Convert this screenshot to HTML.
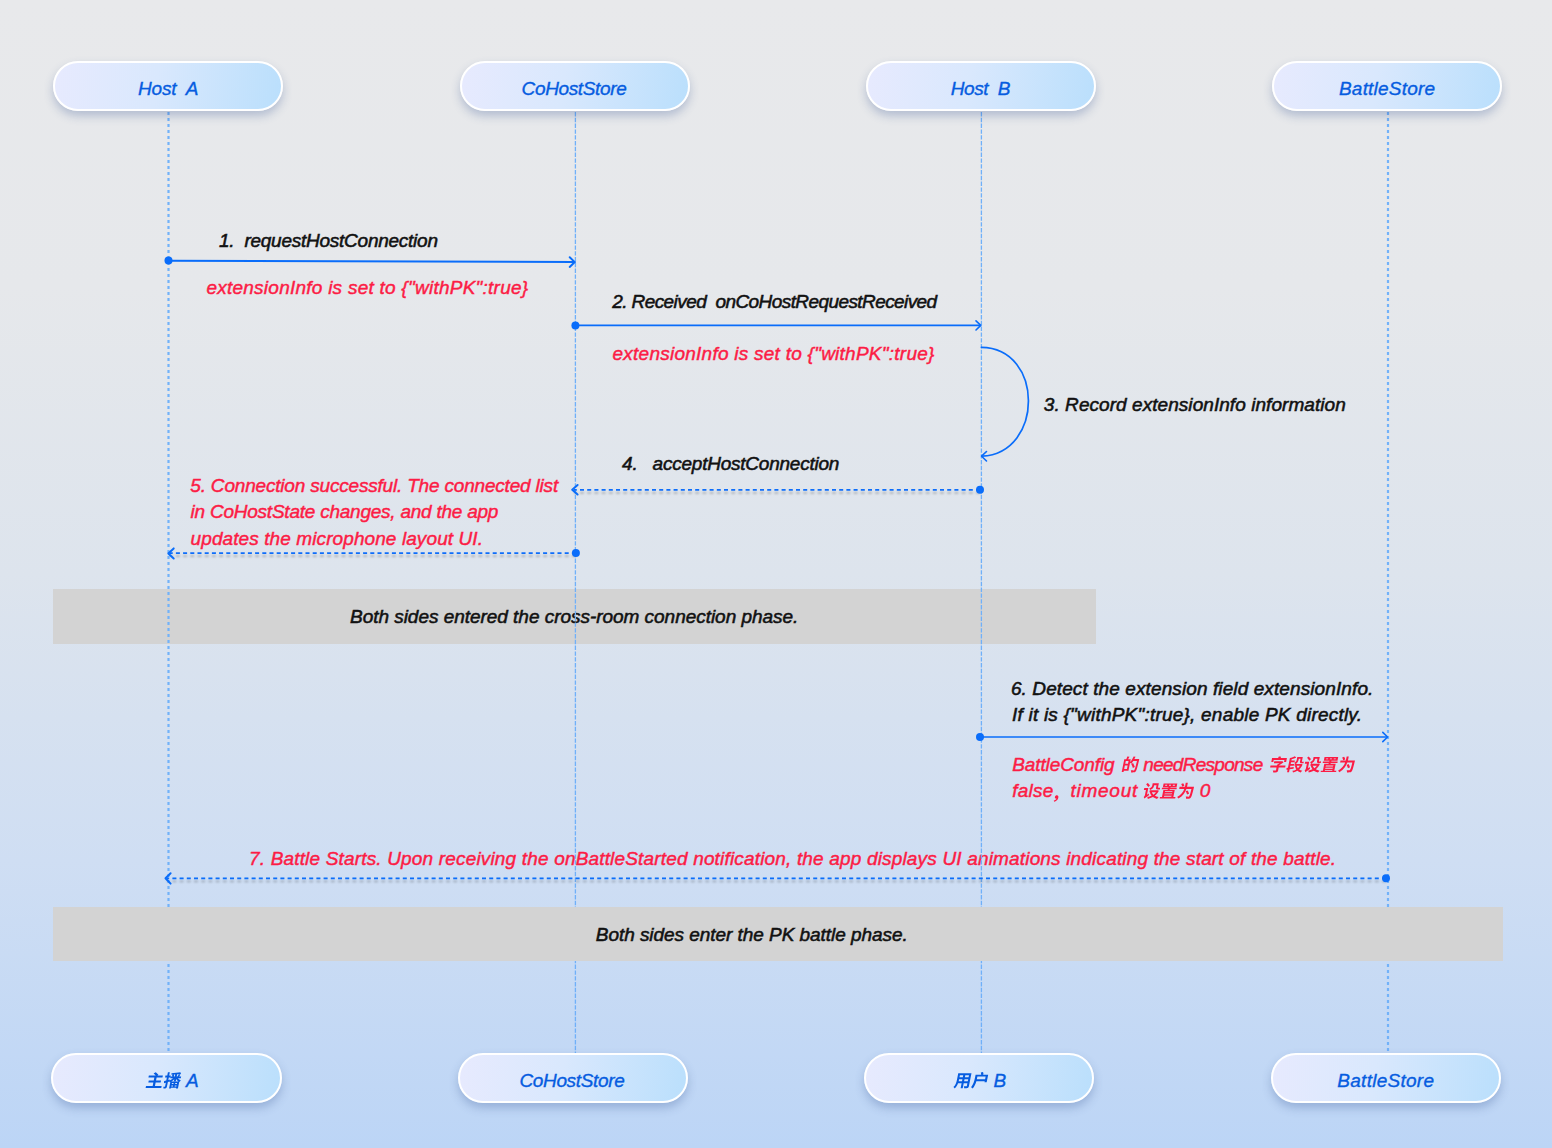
<!DOCTYPE html>
<html><head><meta charset="utf-8">
<style>
html,body{margin:0;padding:0;}
body{width:1552px;height:1148px;position:relative;overflow:hidden;
 background:linear-gradient(180deg,#e8e9eb 0%,#e6e8eb 25%,#dde4ed 50%,#cfdef3 75%,#bcd5f6 100%);
 font-family:"Liberation Sans",sans-serif;font-style:italic;}
.box{position:absolute;width:230.3px;height:50.4px;box-sizing:border-box;border:2px solid #fff;border-radius:25px;
 background:linear-gradient(100deg,#e7eafe 0%,#d9e8fd 45%,#badffc 100%);
 box-shadow:0 5px 10px rgba(60,90,150,0.30);}
.band{position:absolute;background:#d3d3d3;}
.t{position:absolute;white-space:pre;line-height:30px;font-family:"Liberation Sans",sans-serif;font-style:italic;}
svg{position:absolute;left:0;top:0;}
.g{pointer-events:none;}
</style></head><body>
<div class="band" style="left:53px;top:589px;width:1043px;height:55px"></div>
<div class='t' style='left:219.0px;top:226px;color:#111111;font-size:19px;letter-spacing:-0.250px;-webkit-text-stroke:0.55px;'>1.  requestHostConnection</div>
<div class='t' style='left:206.4px;top:273px;color:#fc1c45;font-size:19px;letter-spacing:0.247px;-webkit-text-stroke:0.45px;'>extensionInfo is set to {"withPK":true}</div>
<div class='t' style='left:612.2px;top:287px;color:#111111;font-size:19px;letter-spacing:-0.583px;-webkit-text-stroke:0.55px;'>2. Received  onCoHostRequestReceived</div>
<div class='t' style='left:612.5px;top:339px;color:#fc1c45;font-size:19px;letter-spacing:0.250px;-webkit-text-stroke:0.45px;'>extensionInfo is set to {"withPK":true}</div>
<div class='t' style='left:1043.8px;top:390px;color:#111111;font-size:19px;letter-spacing:0.059px;-webkit-text-stroke:0.55px;'>3. Record extensionInfo information</div>
<div class='t' style='left:622.1px;top:449px;color:#111111;font-size:19px;letter-spacing:-0.233px;-webkit-text-stroke:0.55px;'>4.   acceptHostConnection</div>
<div class='t' style='left:190.3px;top:471px;color:#fc1c45;font-size:19px;letter-spacing:-0.188px;-webkit-text-stroke:0.45px;'>5. Connection successful. The connected list</div>
<div class='t' style='left:190.6px;top:497px;color:#fc1c45;font-size:19px;letter-spacing:-0.235px;-webkit-text-stroke:0.45px;'>in CoHostState changes, and the app</div>
<div class='t' style='left:190.6px;top:524px;color:#fc1c45;font-size:19px;letter-spacing:0.094px;-webkit-text-stroke:0.45px;'>updates the microphone layout UI.</div>
<div class='t' style='left:350.0px;top:602px;color:#111111;font-size:19px;letter-spacing:-0.032px;-webkit-text-stroke:0.55px;'>Both sides entered the cross-room connection phase.</div>
<div class='t' style='left:1010.9px;top:674px;color:#111111;font-size:19px;letter-spacing:0.102px;-webkit-text-stroke:0.55px;'>6. Detect the extension field extensionInfo.</div>
<div class='t' style='left:1012.0px;top:700px;color:#111111;font-size:19px;letter-spacing:0.214px;-webkit-text-stroke:0.55px;'>If it is {"withPK":true}, enable PK directly.</div>
<div class='t' style='left:1012.2px;top:750px;color:#fc1c45;font-size:19px;letter-spacing:-0.100px;-webkit-text-stroke:0.45px;'>BattleConfig</div>
<div class='t' style='left:1143.3px;top:750px;color:#fc1c45;font-size:19px;letter-spacing:-0.718px;-webkit-text-stroke:0.45px;'>needResponse</div>
<div class='t' style='left:1012.2px;top:776px;color:#fc1c45;font-size:19px;letter-spacing:0.225px;-webkit-text-stroke:0.45px;'>false</div>
<div class='t' style='left:1070.5px;top:776px;color:#fc1c45;font-size:19px;letter-spacing:0.733px;-webkit-text-stroke:0.45px;'>timeout</div>
<div class='t' style='left:1199.8px;top:776px;color:#fc1c45;font-size:19px;-webkit-text-stroke:0.45px;'>0</div>
<div class='t' style='left:249.0px;top:844px;color:#fc1c45;font-size:19px;letter-spacing:0.170px;-webkit-text-stroke:0.45px;'>7. Battle Starts. Upon receiving the onBattleStarted notification, the app displays UI animations indicating the start of the battle.</div>
<svg class='g' width='1552' height='1148'><path fill='#fc1c45' d='M1131.27 764.02C1131.86 765.27 1132.58 766.98 1132.86 768.02L1134.82 766.96C1134.49 765.94 1133.67 764.29 1133.07 763.11ZM1133.63 756.4C1132.73 758.44 1131.48 760.53 1130.19 762L1130.75 759.18H1128.09C1128.52 758.46 1129.01 757.57 1129.46 756.71L1127.29 756.38C1127.06 757.21 1126.63 758.32 1126.23 759.18H1124.27L1121.7 772.03H1123.57L1123.83 770.76H1128.44L1130.06 762.68C1130.46 762.97 1130.96 763.4 1131.2 763.67C1131.88 762.93 1132.58 761.99 1133.26 760.94H1136.96C1135.57 767.03 1134.82 769.62 1134.18 770.17C1133.93 770.42 1133.73 770.47 1133.38 770.47C1132.94 770.47 1131.9 770.47 1130.82 770.36C1131.07 770.93 1131.17 771.81 1131.09 772.38C1132.1 772.41 1133.14 772.43 1133.82 772.34C1134.54 772.22 1135.06 772.03 1135.66 771.38C1136.56 770.47 1137.3 767.71 1139.08 759.97C1139.14 759.73 1139.28 759.05 1139.28 759.05H1134.41C1134.81 758.32 1135.2 757.58 1135.54 756.86ZM1125.79 760.97H1128.54L1127.98 763.78H1125.23ZM1124.19 768.95 1124.87 765.56H1127.62L1126.94 768.95Z'/></svg>
<svg class='g' width='1552' height='1148'><path fill='#fc1c45' d='M1277.07 764.7 1276.89 765.62H1270.49L1270.1 767.58H1276.5L1275.99 770.14C1275.94 770.38 1275.82 770.45 1275.48 770.45C1275.13 770.45 1273.83 770.45 1272.78 770.42C1273.02 770.97 1273.24 771.89 1273.26 772.51C1274.69 772.51 1275.79 772.48 1276.66 772.17C1277.59 771.86 1277.96 771.29 1278.18 770.19L1278.7 767.58H1285.15L1285.54 765.62H1279.09L1279.15 765.34C1280.78 764.5 1282.36 763.38 1283.58 762.33L1282.42 761.26L1281.92 761.37H1274.28L1273.9 763.28H1279.46C1278.7 763.81 1277.85 764.34 1277.07 764.7ZM1278.1 756.88C1278.28 757.21 1278.42 757.62 1278.53 758.01H1272.08L1271.29 761.97H1273.32L1273.72 759.96H1284.42L1284.02 761.97H1286.15L1286.94 758.01H1280.99C1280.86 757.46 1280.6 756.78 1280.29 756.26ZM1297.3 757.05 1296.88 759.17C1296.63 760.39 1296.15 761.83 1294.27 762.9C1294.57 763.14 1295.12 763.74 1295.37 764.12H1294.77L1294.42 765.86H1296.09L1294.99 766.12C1295.24 767.37 1295.64 768.45 1296.23 769.38C1295.06 770.07 1293.74 770.55 1292.31 770.85C1292.61 771.28 1292.92 772.08 1293 772.62C1294.62 772.19 1296.08 771.6 1297.39 770.78C1298.27 771.57 1299.35 772.15 1300.7 772.55C1301.08 772.01 1301.82 771.19 1302.33 770.78C1301.06 770.5 1300.01 770.05 1299.17 769.45C1300.56 768.2 1301.71 766.58 1302.63 764.48L1301.42 764.05L1301.06 764.12H1295.61C1297.65 762.86 1298.44 760.83 1298.76 759.22L1298.84 758.81H1300.54L1300.09 761.06C1299.77 762.68 1299.95 763.35 1301.6 763.35C1301.82 763.35 1302.34 763.35 1302.58 763.35C1302.94 763.35 1303.32 763.35 1303.6 763.24C1303.62 762.8 1303.7 762.12 1303.76 761.64C1303.52 761.71 1303.12 761.76 1302.88 761.76C1302.7 761.76 1302.27 761.76 1302.1 761.76C1301.88 761.76 1301.88 761.57 1301.98 761.09L1302.79 757.05ZM1296.78 765.86H1299.89C1299.33 766.77 1298.66 767.54 1297.89 768.21C1297.36 767.53 1296.98 766.73 1296.78 765.86ZM1289.89 758.07 1287.95 767.75 1286.54 767.92 1286.47 769.85 1287.57 769.68 1287.07 772.19H1289.04L1289.61 769.37L1293.53 768.75L1293.8 766.99L1289.98 767.49L1290.34 765.72H1293.78L1294.14 763.93H1290.7L1291.04 762.21H1294.53L1294.89 760.42H1291.4L1291.63 759.27C1293.16 758.84 1294.81 758.32 1296.21 757.76L1294.91 756.17C1293.63 756.81 1291.68 757.57 1289.94 758.07L1289.96 758.08ZM1307.08 757.86C1307.86 758.68 1308.83 759.87 1309.22 760.65L1310.92 759.22C1310.48 758.48 1309.43 757.36 1308.66 756.6ZM1305.19 761.69 1304.8 763.67H1306.86L1305.82 768.87C1305.66 769.68 1305.06 770.28 1304.63 770.55C1304.89 770.95 1305.24 771.81 1305.31 772.31C1305.68 771.89 1306.37 771.4 1310.09 768.7C1309.92 768.32 1309.72 767.53 1309.66 766.98L1307.93 768.23L1309.24 761.69ZM1313.61 756.95 1313.24 758.81C1313 759.99 1312.49 761.25 1310.12 762.16C1310.46 762.45 1311.02 763.26 1311.18 763.67C1313.88 762.54 1314.81 760.59 1315.15 758.86H1317.46L1317.09 760.68C1316.75 762.4 1316.95 763.14 1318.65 763.14C1318.91 763.14 1319.49 763.14 1319.77 763.14C1320.15 763.14 1320.56 763.12 1320.86 763C1320.87 762.54 1320.98 761.8 1321.03 761.3C1320.79 761.37 1320.35 761.4 1320.08 761.4C1319.87 761.4 1319.37 761.4 1319.2 761.4C1318.94 761.4 1318.93 761.21 1319.03 760.71L1319.78 756.95ZM1316.9 765.77C1316.21 766.75 1315.35 767.58 1314.37 768.27C1313.64 767.56 1313.1 766.72 1312.76 765.77ZM1310.71 763.86 1310.33 765.77H1311.62L1310.81 766.03C1311.19 767.3 1311.76 768.42 1312.52 769.37C1311.19 770 1309.72 770.45 1308.15 770.72C1308.43 771.15 1308.68 771.98 1308.74 772.51C1310.58 772.1 1312.3 771.52 1313.84 770.66C1314.94 771.52 1316.3 772.15 1317.93 772.57C1318.3 772 1319.02 771.17 1319.56 770.72C1318.1 770.45 1316.85 769.99 1315.8 769.37C1317.4 768.11 1318.76 766.46 1319.83 764.31L1318.66 763.78L1318.3 763.86ZM1333.88 758.38H1335.87L1335.67 759.37H1333.68ZM1330.04 758.38H1332L1331.8 759.37H1329.84ZM1326.24 758.38H1328.15L1327.95 759.37H1326.04ZM1324.29 763.64 1322.89 770.64H1320.88L1320.59 772.08H1336.11L1336.4 770.64H1334.28L1335.68 763.64H1330.49L1330.74 762.97H1337.41L1337.71 761.47H1331.28L1331.52 760.77H1337.48L1338.23 757H1324.54L1323.78 760.77H1329.41L1329.22 761.47H1322.96L1322.66 762.97H1328.76L1328.52 763.64ZM1324.84 770.64 1324.97 769.97H1332.38L1332.25 770.64ZM1325.65 766.56H1333.07L1332.94 767.22H1325.52ZM1325.86 765.51 1325.99 764.89H1333.4L1333.28 765.51ZM1325.32 768.23H1332.73L1332.59 768.92H1325.18ZM1342.16 757.55C1342.6 758.38 1343.09 759.51 1343.23 760.2L1345.32 759.39C1345.14 758.67 1344.6 757.58 1344.12 756.81ZM1346.64 764.91C1347.19 765.93 1347.78 767.3 1347.96 768.18L1350.01 767.25C1349.79 766.37 1349.12 765.07 1348.54 764.1ZM1346.67 756.41 1346.2 758.75C1346.1 759.27 1345.97 759.82 1345.82 760.4H1340.52L1340.11 762.49H1345.16C1344.1 765.31 1342.1 768.44 1338.04 770.69C1338.49 771.02 1339.13 771.76 1339.38 772.22C1343.99 769.54 1346.17 765.79 1347.31 762.49H1352.34C1351.16 767.41 1350.51 769.54 1349.95 770.02C1349.7 770.24 1349.5 770.29 1349.16 770.29C1348.69 770.29 1347.7 770.29 1346.65 770.21C1346.92 770.81 1347.03 771.74 1346.95 772.38C1347.98 772.41 1349.04 772.43 1349.72 772.32C1350.46 772.22 1351 772.01 1351.62 771.38C1352.48 770.52 1353.19 768.02 1354.76 761.39C1354.83 761.11 1354.97 760.4 1354.97 760.4H1347.94C1348.07 759.82 1348.19 759.29 1348.3 758.77L1348.77 756.41Z'/></svg>
<svg class='g' width='1552' height='1148'><path fill='#fc1c45' d='M1054.07 801.87C1056.33 801.24 1057.9 799.65 1058.3 797.69C1058.59 796.25 1058.13 795.34 1056.91 795.34C1056 795.34 1055.11 795.92 1054.91 796.89C1054.72 797.87 1055.38 798.43 1056.24 798.43L1056.43 798.42C1056.15 799.31 1055.21 800.05 1053.8 800.48Z'/></svg>
<svg class='g' width='1552' height='1148'><path fill='#fc1c45' d='M1146.15 784.26C1146.93 785.08 1147.9 786.27 1148.3 787.05L1149.99 785.62C1149.55 784.88 1148.51 783.76 1147.73 783ZM1144.27 788.09 1143.87 790.07H1145.94L1144.9 795.27C1144.74 796.08 1144.13 796.68 1143.7 796.95C1143.96 797.35 1144.31 798.21 1144.38 798.71C1144.76 798.29 1145.44 797.8 1149.16 795.1C1149 794.72 1148.79 793.93 1148.73 793.38L1147 794.63L1148.31 788.09ZM1152.68 783.35 1152.31 785.21C1152.07 786.39 1151.56 787.65 1149.2 788.56C1149.53 788.85 1150.09 789.66 1150.25 790.07C1152.96 788.94 1153.88 786.99 1154.23 785.26H1156.53L1156.17 787.08C1155.82 788.8 1156.02 789.54 1157.72 789.54C1157.98 789.54 1158.56 789.54 1158.84 789.54C1159.22 789.54 1159.63 789.52 1159.93 789.4C1159.94 788.94 1160.05 788.2 1160.1 787.7C1159.86 787.77 1159.43 787.8 1159.15 787.8C1158.95 787.8 1158.45 787.8 1158.28 787.8C1158.02 787.8 1158 787.61 1158.1 787.11L1158.86 783.35ZM1155.97 792.17C1155.28 793.15 1154.43 793.98 1153.45 794.67C1152.71 793.96 1152.17 793.12 1151.83 792.17ZM1149.79 790.26 1149.4 792.17H1150.69L1149.89 792.43C1150.27 793.7 1150.83 794.82 1151.59 795.77C1150.26 796.4 1148.79 796.85 1147.23 797.12C1147.5 797.55 1147.75 798.38 1147.81 798.91C1149.65 798.5 1151.37 797.92 1152.92 797.06C1154.02 797.92 1155.37 798.55 1157.01 798.97C1157.38 798.4 1158.09 797.57 1158.63 797.12C1157.17 796.85 1155.92 796.39 1154.88 795.77C1156.47 794.51 1157.83 792.86 1158.9 790.71L1157.73 790.18L1157.37 790.26ZM1172.95 784.78H1174.95L1174.75 785.77H1172.75ZM1169.11 784.78H1171.08L1170.88 785.77H1168.92ZM1165.31 784.78H1167.22L1167.02 785.77H1165.11ZM1163.37 790.04 1161.97 797.04H1159.95L1159.67 798.48H1175.18L1175.47 797.04H1173.35L1174.75 790.04H1169.56L1169.81 789.37H1176.49L1176.79 787.87H1170.35L1170.6 787.17H1176.55L1177.3 783.4H1163.61L1162.86 787.17H1168.48L1168.29 787.87H1162.03L1161.73 789.37H1167.84L1167.6 790.04ZM1163.91 797.04 1164.04 796.37H1171.46L1171.32 797.04ZM1164.73 792.96H1172.14L1172.01 793.62H1164.59ZM1164.94 791.91 1165.06 791.29H1172.47L1172.35 791.91ZM1164.39 794.63H1171.8L1171.67 795.32H1164.25ZM1181.23 783.95C1181.67 784.78 1182.17 785.91 1182.3 786.6L1184.39 785.79C1184.21 785.07 1183.67 783.98 1183.19 783.21ZM1185.71 791.31C1186.27 792.33 1186.85 793.7 1187.04 794.58L1189.08 793.65C1188.86 792.77 1188.19 791.47 1187.61 790.5ZM1185.74 782.81 1185.28 785.15C1185.17 785.67 1185.05 786.22 1184.89 786.8H1179.6L1179.18 788.89H1184.24C1183.17 791.71 1181.17 794.84 1177.11 797.09C1177.56 797.42 1178.2 798.16 1178.45 798.62C1183.07 795.94 1185.24 792.19 1186.39 788.89H1191.41C1190.24 793.81 1189.59 795.94 1189.03 796.42C1188.77 796.64 1188.57 796.69 1188.23 796.69C1187.77 796.69 1186.77 796.69 1185.72 796.61C1185.99 797.21 1186.1 798.14 1186.03 798.78C1187.05 798.81 1188.11 798.83 1188.79 798.72C1189.53 798.62 1190.07 798.41 1190.7 797.78C1191.56 796.92 1192.26 794.42 1193.83 787.79C1193.9 787.51 1194.04 786.8 1194.04 786.8H1187.01C1187.14 786.22 1187.27 785.69 1187.37 785.17L1187.84 782.81Z'/></svg>
<svg width="1552" height="1148" viewBox="0 0 1552 1148">
 <defs>
  <filter id="sh" x="-5%" y="-50%" width="110%" height="300%">
   <feGaussianBlur in="SourceAlpha" stdDeviation="1.2"/>
   <feOffset dy="3" result="b"/>
   <feComponentTransfer><feFuncA type="linear" slope="0.25"/></feComponentTransfer>
   <feMerge><feMergeNode/><feMergeNode in="SourceGraphic"/></feMerge>
  </filter>
 </defs>
 <g fill="none">
  <line x1="168.5" y1="112" x2="168.5" y2="1053" stroke="#72b2f9" stroke-width="2.2" stroke-dasharray="3 3"/>
  <line x1="1388" y1="112" x2="1388" y2="1053" stroke="#72b2f9" stroke-width="2.2" stroke-dasharray="3 3"/>
  <line x1="575.4" y1="112" x2="575.4" y2="1053" stroke="#6fb0f9" stroke-width="1.3" stroke-dasharray="4.4 1.4"/>
  <line x1="981.4" y1="112" x2="981.4" y2="1053" stroke="#6fb0f9" stroke-width="1.3" stroke-dasharray="4.4 1.4"/>
 </g>
 <g fill="none" stroke="#0a6dfa" stroke-linecap="round" stroke-linejoin="round">
  <!-- A -->
  <line x1="168.5" y1="260.7" x2="574.5" y2="262" stroke-width="2"/>
  <polyline points="569.7,257.2 574.8,262.1 569.7,266.9" stroke-width="2"/>
  <!-- B -->
  <line x1="575.4" y1="325.4" x2="980" y2="325.4" stroke-width="1.6"/>
  <polyline points="976,320.8 980.8,325.4 976,330" stroke-width="1.6"/>
  <!-- loop -->
  <path d="M981.4,347.3 C1044,348 1044,453 982,456.2" stroke-width="1.7"/>
  <polyline points="986.5,451.5 981.6,456.2 986.5,461" stroke-width="1.6"/>
  <!-- E -->
  <line x1="980" y1="737" x2="1387" y2="737" stroke-width="1.6"/>
  <polyline points="1382.8,732.4 1387.6,737 1382.8,741.6" stroke-width="1.6"/>
 </g>
 <g fill="none" stroke="#0a6dfa" stroke-linecap="butt" filter="url(#sh)">
  <line x1="980" y1="489.8" x2="574" y2="489.8" stroke-width="1.8" stroke-dasharray="4 3.2"/>
  <line x1="575.9" y1="553.1" x2="170" y2="553.1" stroke-width="1.8" stroke-dasharray="4 3.2"/>
  <line x1="1386" y1="878.3" x2="167" y2="878.3" stroke-width="1.8" stroke-dasharray="4 3.2"/>
 </g>
 <g fill="none" stroke="#0a6dfa" stroke-linecap="round" stroke-linejoin="round" stroke-width="2">
  <polyline points="577.6,485 572.2,489.8 577.6,494.5"/>
  <polyline points="173.7,548.4 168.3,553.4 173.7,558.5"/>
  <polyline points="170.6,873.2 165.5,878.2 170.6,883.6"/>
 </g>
 <g fill="#0a6dfa">
  <circle cx="168.5" cy="260.6" r="4"/>
  <circle cx="575.4" cy="325.4" r="4"/>
  <circle cx="980" cy="489.8" r="4"/>
  <circle cx="575.9" cy="553.1" r="4"/>
  <circle cx="980" cy="737" r="4"/>
  <circle cx="1386" cy="878.2" r="4"/>
 </g>
</svg>
<div class="band" style="left:53px;top:907px;width:1450px;height:54px"></div>
<div class='t' style='left:595.8px;top:920px;color:#111111;font-size:19px;letter-spacing:-0.050px;-webkit-text-stroke:0.55px;'>Both sides enter the PK battle phase.</div>
<div class="box" style="left:53px;top:61px"></div>
<div class="box" style="left:459.5px;top:61px"></div>
<div class="box" style="left:865.5px;top:61px"></div>
<div class="box" style="left:1272px;top:61px"></div>
<div class="box" style="left:51.4px;top:1053px;height:49.8px"></div>
<div class="box" style="left:457.7px;top:1053px;height:49.8px"></div>
<div class="box" style="left:864.2px;top:1053px;height:49.8px"></div>
<div class="box" style="left:1270.8px;top:1053px;height:49.8px"></div>
<div class='t' style='left:138.0px;top:74px;color:#065ce0;font-size:19px;letter-spacing:-0.200px;-webkit-text-stroke:0.35px;'>Host  A</div>
<div class='t' style='left:521.6px;top:74px;color:#065ce0;font-size:19px;letter-spacing:-0.360px;-webkit-text-stroke:0.35px;'>CoHostStore</div>
<div class='t' style='left:950.7px;top:74px;color:#065ce0;font-size:19px;letter-spacing:-0.417px;-webkit-text-stroke:0.35px;'>Host  B</div>
<div class='t' style='left:1339.0px;top:74px;color:#065ce0;font-size:19px;letter-spacing:0.200px;-webkit-text-stroke:0.35px;'>BattleStore</div>
<div class='t' style='left:186.0px;top:1066px;color:#065ce0;font-size:19px;-webkit-text-stroke:0.35px;'>A</div>
<div class='t' style='left:519.4px;top:1066px;color:#065ce0;font-size:19px;letter-spacing:-0.340px;-webkit-text-stroke:0.35px;'>CoHostStore</div>
<div class='t' style='left:993.4px;top:1066px;color:#065ce0;font-size:19px;-webkit-text-stroke:0.35px;'>B</div>
<div class='t' style='left:1337.3px;top:1066px;color:#065ce0;font-size:19px;letter-spacing:0.270px;-webkit-text-stroke:0.35px;'>BattleStore</div>
<svg class='g' width='1552' height='1148'><path fill='#065ce0' d='M153.62 1073.39C154.36 1073.98 155.2 1074.8 155.79 1075.5H148.85L148.44 1077.55H154.34L153.73 1080.58H148.76L148.35 1082.6H153.33L152.66 1085.96H146.01L145.6 1088.01H161.26L161.67 1085.96H154.95L155.63 1082.6H160.65L161.06 1080.58H156.03L156.64 1077.55H162.48L162.89 1075.5H157.38L158.43 1074.84C157.85 1074.02 156.57 1072.91 155.58 1072.19ZM175.25 1074.49 174.83 1076.56H173.25L174.24 1076.25C174.18 1075.81 173.99 1075.13 173.84 1074.58ZM167.92 1072.23 167.26 1075.52H165.44L165.05 1077.43H166.88L166.25 1080.6C165.4 1080.84 164.62 1081.07 164 1081.22L163.96 1083.24L165.84 1082.63L165.1 1086.36C165.05 1086.58 164.97 1086.65 164.76 1086.65C164.55 1086.67 163.94 1086.67 163.3 1086.63C163.45 1087.19 163.5 1088.06 163.45 1088.57C164.59 1088.57 165.36 1088.5 165.95 1088.17C166.55 1087.85 166.82 1087.31 167.01 1086.36L167.89 1081.97L169.56 1081.41C169.72 1081.68 169.86 1081.92 169.94 1082.13L170.34 1081.95L169.03 1088.51H170.86L170.99 1087.87H176.1L175.99 1088.44H177.92L179.22 1081.95L179.29 1082.01C179.68 1081.54 180.41 1080.86 180.88 1080.51C179.78 1080.04 178.66 1079.19 177.98 1078.25H180.81L181.15 1076.56H179.15C179.6 1075.97 180.08 1075.27 180.57 1074.61L178.87 1074.14C178.48 1074.87 177.85 1075.85 177.32 1076.56H176.71L177.16 1074.33L178.87 1074.14C179.67 1074.04 180.42 1073.93 181.11 1073.79L180.33 1072.3C178.07 1072.73 174.46 1073.03 171.41 1073.17C171.5 1073.55 171.59 1074.23 171.54 1074.66L173.35 1074.59L172.07 1074.96C172.2 1075.45 172.32 1076.07 172.38 1076.56H170.66L170.32 1078.25H173.03C172.12 1079.1 170.88 1079.88 169.65 1080.39L169.66 1079.55L168.29 1079.97L168.8 1077.43H170.38L170.76 1075.52H169.18L169.84 1072.23ZM174.32 1079.14 173.9 1081.22H175.78L176.24 1078.91C176.8 1079.88 177.62 1080.81 178.51 1081.48H171.29C172.39 1080.88 173.44 1080.04 174.32 1079.14ZM173.58 1083 173.39 1083.97H171.77L171.96 1083ZM175.3 1083H177.08L176.88 1083.97H175.11ZM173.1 1085.42 172.9 1086.41H171.28L171.48 1085.42ZM174.82 1085.42H176.59L176.4 1086.41H174.62Z'/></svg>
<svg class='g' width='1552' height='1148'><path fill='#065ce0' d='M958.25 1073.18 957.01 1079.42C956.51 1081.88 955.74 1084.99 953.4 1087.1C953.82 1087.36 954.53 1088.07 954.78 1088.45C956.31 1087.1 957.33 1085.18 958.01 1083.27H961.6L960.62 1088.14H962.73L963.7 1083.27H967.37L966.85 1085.88C966.79 1086.19 966.64 1086.3 966.33 1086.3C966 1086.3 964.85 1086.31 963.87 1086.26C964.04 1086.8 964.19 1087.7 964.15 1088.26C965.73 1088.28 966.8 1088.23 967.58 1087.9C968.35 1087.58 968.71 1087.01 968.93 1085.9L971.48 1073.18ZM959.91 1075.18H963.21L962.81 1077.2H959.5ZM968.99 1075.18 968.59 1077.2H964.92L965.32 1075.18ZM959.11 1079.14H962.42L961.99 1081.3H958.63C958.8 1080.64 958.94 1080.01 959.05 1079.44ZM968.2 1079.14 967.77 1081.3H964.09L964.53 1079.14ZM977.4 1076.59H985.65L985.1 1079.32H976.85L977 1078.59ZM980.82 1072.44C980.98 1073.11 981.15 1073.99 981.23 1074.64H975.6L974.81 1078.59C974.3 1081.13 973.4 1084.75 971.03 1087.22C971.49 1087.44 972.29 1088.11 972.62 1088.49C974.48 1086.56 975.64 1083.75 976.36 1081.27H984.71L984.53 1082.17H986.67L988.18 1074.64H982.42L983.52 1074.34C983.45 1073.66 983.25 1072.67 983.01 1071.92Z'/></svg>
</body></html>
